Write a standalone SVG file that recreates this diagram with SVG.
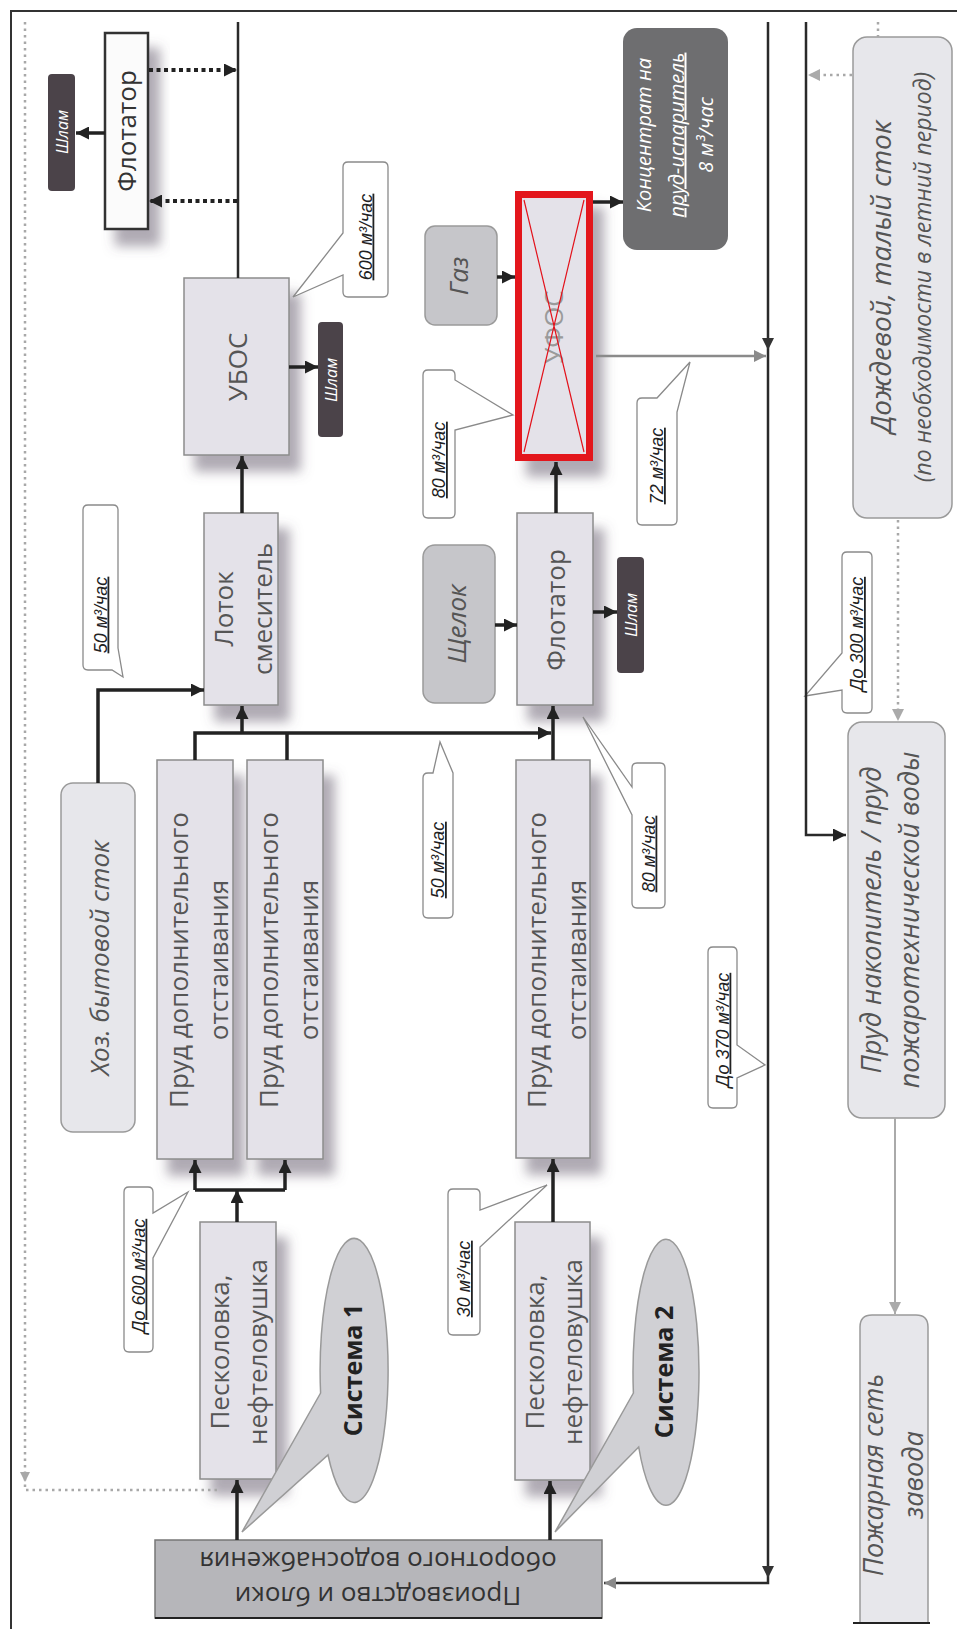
<svg xmlns="http://www.w3.org/2000/svg" width="957" height="1629" viewBox="0 0 957 1629">
<defs>
<filter id="sh" x="-40%" y="-20%" width="190%" height="150%">
<feDropShadow dx="11" dy="16" stdDeviation="6" flood-color="#5f5568" flood-opacity="0.5"/>
</filter>
<marker id="ab" viewBox="0 0 10 10" refX="10" refY="5" markerWidth="13" markerHeight="13" markerUnits="userSpaceOnUse" orient="auto"><path d="M0,0 L10,5 L0,10 z" fill="#222"/></marker>
<marker id="ag" viewBox="0 0 10 10" refX="10" refY="5" markerWidth="12" markerHeight="12" markerUnits="userSpaceOnUse" orient="auto"><path d="M0,0 L10,5 L0,10 z" fill="#8a8a8a"/></marker>
<marker id="agl" viewBox="0 0 10 10" refX="10" refY="5" markerWidth="12" markerHeight="12" markerUnits="userSpaceOnUse" orient="auto"><path d="M0,0 L10,5 L0,10 z" fill="#aaaaaa"/></marker>
</defs>
<style>
.box{fill:#e4e2e9;stroke:#8c8c8c;stroke-width:1.5}
.rbox{fill:#e7e7eb;stroke:#9a9a9a;stroke-width:1.5}
.gbox{fill:#c6c6ca;stroke:#9a9a9a;stroke-width:1.5}
.dbox{fill:#4b4349}
.cb{fill:#ffffff;stroke:#8a8a8a;stroke-width:1.3}
.t{font-family:"Open Sans","Noto Sans",sans-serif;font-size:26px;fill:#555;text-anchor:middle}
.it{font-style:italic}
.w{fill:#ffffff}
.sm{font-family:"Open Sans","Noto Sans",sans-serif;font-size:16px;font-style:italic;fill:#fff;text-anchor:middle}
.ct{font-family:"Liberation Sans","Open Sans",sans-serif;font-size:18px;font-style:italic;fill:#222;text-anchor:middle;text-decoration:underline}
.ln{fill:none;stroke:#222;stroke-width:3.5}
.thin{fill:none;stroke:#2a2a2a;stroke-width:2.5}
.gl{fill:none;stroke:#8a8a8a;stroke-width:2.5}
.dot{fill:none;stroke:#222;stroke-width:4;stroke-dasharray:4 3.5}
.gdot{fill:none;stroke:#a8a8a8;stroke-width:2.5;stroke-dasharray:2.5 4}
</style>
<rect x="0" y="0" width="957" height="1629" fill="#ffffff"/>
<path d="M10,11 H957 M11,11 V1629" fill="none" stroke="#333" stroke-width="2"/>

<g id="flotator-top">
<rect x="105" y="33" width="43" height="196" fill="#fbfbfb" stroke="#333" stroke-width="2.5" filter="url(#sh)"/>
<text class="t" style="fill:#333" transform="translate(126.5,131) rotate(-90)" y="9.5">Флотатор</text>
</g>
<g id="shlam-top">
<rect x="48" y="74" width="27" height="117" rx="4" class="dbox"/>
<text class="sm" transform="translate(61.5,132) rotate(-90)" y="6">Шлам</text>
</g>
<g id="ubos">
<rect x="184" y="278" width="105" height="177" class="box" filter="url(#sh)"/>
<text class="t" transform="translate(236.5,367) rotate(-90)" y="10">УБОС</text>
</g>
<g id="shlam-ubos">
<rect x="318" y="322" width="25" height="115" rx="4" class="dbox"/>
<text class="sm" transform="translate(330.5,380) rotate(-90)" y="6">Шлам</text>
</g>
<g id="gaz">
<rect x="425" y="226" width="72" height="99" rx="10" class="gbox"/>
<text class="t it" transform="translate(461,276) rotate(-90)" y="7">Газ</text>
</g>
<g id="ufos">
<rect x="518.5" y="194.5" width="71" height="263" fill="#e4e2e9" stroke="#e3121b" stroke-width="7" filter="url(#sh)"/>
<text class="t" style="fill:#9a9a9a" transform="translate(554,327) rotate(-90)" y="9">УФОС</text>
<path d="M524,200 L584,452 M584,200 L524,452" stroke="#e3121b" stroke-width="1.2" fill="none"/>
</g>
<g id="koncentrat">
<rect x="623" y="28" width="105" height="222" rx="14" fill="#6e6e70"/>
<text class="t it w" style="font-size:20px;fill:#fff" transform="translate(675.5,135) rotate(-90)"><tspan x="0" y="-25">Концентрат на</tspan><tspan x="0" y="8" text-decoration="underline">пруд-испаритель</tspan><tspan x="0" y="37">8 м³/час</tspan></text>
</g>
<g id="dozhd">
<rect x="853" y="37" width="99" height="481" rx="14" class="rbox"/>
<text class="t it" transform="translate(902,277) rotate(-90)"><tspan x="0" y="-11" style="font-size:28px">Дождевой, талый сток</tspan><tspan x="0" y="29" style="font-size:23px">(по необходимости в летний период)</tspan></text>
</g>
<g id="lotok">
<rect x="204" y="513" width="74" height="192" class="box" filter="url(#sh)"/>
<text class="t" transform="translate(241,609) rotate(-90)"><tspan x="0" y="-8">Лоток</tspan><tspan x="0" y="31">смеситель</tspan></text>
</g>
<g id="shchelok">
<rect x="423" y="545" width="72" height="158" rx="12" class="gbox"/>
<text class="t it" transform="translate(459,624) rotate(-90)" y="7">Щелок</text>
</g>
<g id="flotator-mid">
<rect x="517" y="513" width="76" height="192" class="box" filter="url(#sh)"/>
<text class="t" transform="translate(555,610) rotate(-90)" y="10">Флотатор</text>
</g>
<g id="shlam-mid">
<rect x="617" y="557" width="27" height="116" rx="4" class="dbox"/>
<text class="sm" transform="translate(630.5,615) rotate(-90)" y="6">Шлам</text>
</g>
<g id="khoz">
<rect x="61" y="783" width="74" height="349" rx="12" class="rbox"/>
<text class="t it" transform="translate(98,958) rotate(-90)" y="11">Хоз. бытовой сток</text>
</g>
<g id="prud1">
<rect x="157" y="760" width="76" height="399" class="box" filter="url(#sh)"/>
<text class="t" transform="translate(195,960) rotate(-90)"><tspan x="0" y="-7">Пруд дополнительного</tspan><tspan x="0" y="33">отстаивания</tspan></text>
</g>
<g id="prud2">
<rect x="247" y="760" width="76" height="399" class="box" filter="url(#sh)"/>
<text class="t" transform="translate(285,960) rotate(-90)"><tspan x="0" y="-7">Пруд дополнительного</tspan><tspan x="0" y="33">отстаивания</tspan></text>
</g>
<g id="prud3">
<rect x="516" y="760" width="74" height="398" class="box" filter="url(#sh)"/>
<text class="t" transform="translate(553,960) rotate(-90)"><tspan x="0" y="-7">Пруд дополнительного</tspan><tspan x="0" y="33">отстаивания</tspan></text>
</g>
<g id="nakopitel">
<rect x="848" y="722" width="97" height="396" rx="14" class="rbox"/>
<text class="t it" style="font-size:27px" transform="translate(896.5,920) rotate(-90)"><tspan x="0" y="-16">Пруд накопитель / пруд</tspan><tspan x="0" y="22">пожаротехнической воды</tspan></text>
</g>
<g id="peskolovka1">
<rect x="200" y="1222" width="76" height="257" class="box" filter="url(#sh)"/>
<text class="t" transform="translate(238,1352) rotate(-90)"><tspan x="0" y="-9">Песколовка,</tspan><tspan x="0" y="29">нефтеловушка</tspan></text>
</g>
<g id="peskolovka2">
<rect x="515" y="1222" width="75" height="258" class="box" filter="url(#sh)"/>
<text class="t" transform="translate(552.5,1352) rotate(-90)"><tspan x="0" y="-9">Песколовка,</tspan><tspan x="0" y="29">нефтеловушка</tspan></text>
</g>
<g id="sistema1">
<path d="M320.6,1393 L242,1532 L328,1455 A34,132 0 1 0 320.6,1393 Z" fill="#d0d0d4" stroke="#999" stroke-width="1.5"/>
<text class="t" style="font-weight:bold;font-size:25px;fill:#222" transform="translate(354,1370) rotate(-90)" y="8">Система 1</text>
</g>
<g id="sistema2">
<path d="M633.4,1393 L555,1532 L638.7,1447 A33,133 0 1 0 633.4,1393 Z" fill="#d0d0d4" stroke="#999" stroke-width="1.5"/>
<text class="t" style="font-weight:bold;font-size:25px;fill:#222" transform="translate(666,1372) rotate(-90)" y="7">Система 2</text>
</g>
<g id="proizvodstvo">
<rect x="155" y="1540" width="447" height="78" fill="#b6b6ba" stroke="#777" stroke-width="1.5"/>
<path d="M155,1618 H602" stroke="#222" stroke-width="2"/>
<text class="t" style="fill:#333" transform="translate(378,1579) rotate(180)"><tspan x="0" y="-8">Производство и блоки</tspan><tspan x="0" y="27">оборотного водоснабжения</tspan></text>
</g>
<g id="pozharnaya">
<path d="M860,1623 V1327 Q860,1315 872,1315 H916 Q928,1315 928,1327 V1623 Z" class="rbox"/>
<path d="M853,1623 H930" stroke="#222" stroke-width="2"/>
<text class="t it" style="font-size:27px" transform="translate(894,1475) rotate(-90)"><tspan x="0" y="-11">Пожарная сеть</tspan><tspan x="0" y="29">завода</tspan></text>
</g>

<g id="callouts">
<g id="c600"><path class="cb" d="M348,162 H383 Q388,162 388,167 V292 Q388,297 383,297 H348 Q343,297 343,292 V275 L293,297 L343,233 V167 Q343,162 348,162 Z"/><text class="ct" transform="translate(365.5,237) rotate(-90)" y="6">600 м³/час</text></g>
<g id="c80a"><path class="cb" d="M428,370 H450 Q455,370 455,375 V380 L513,415 L455,430 V513 Q455,518 450,518 H428 Q423,518 423,513 V375 Q423,370 428,370 Z"/><text class="ct" transform="translate(439,460) rotate(-90)" y="6">80 м³/час</text></g>
<g id="c50a"><path class="cb" d="M88,505 H113 Q118,505 118,510 V648 L123,677 L112,670 H88 Q83,670 83,665 V510 Q83,505 88,505 Z"/><text class="ct" transform="translate(100.5,615) rotate(-90)" y="6">50 м³/час</text></g>
<g id="c50b"><path class="cb" d="M428,773 H433 L440,742 L453,773 V913 Q453,918 448,918 H428 Q423,918 423,913 V778 Q423,773 428,773 Z"/><text class="ct" transform="translate(438,860) rotate(-90)" y="6">50 м³/час</text></g>
<g id="c80b"><path class="cb" d="M637,763 H660 Q665,763 665,768 V903 Q665,908 660,908 H637 Q632,908 632,903 V815 L583,717 L632,787 V768 Q632,763 637,763 Z"/><text class="ct" transform="translate(648.5,854) rotate(-90)" y="6">80 м³/час</text></g>
<g id="c370"><path class="cb" d="M713,947 H732 Q737,947 737,952 V1045 L765,1065 L737,1078 V1103 Q737,1108 732,1108 H713 Q708,1108 708,1103 V952 Q708,947 713,947 Z"/><text class="ct" transform="translate(722.5,1030) rotate(-90)" y="6">До 370 м³/час</text></g>
<g id="c72"><path class="cb" d="M642,398 H657 L690,362 L677,412 V520 Q677,525 672,525 H642 Q637,525 637,520 V403 Q637,398 642,398 Z"/><text class="ct" transform="translate(657,466) rotate(-90)" y="6">72 м³/час</text></g>
<g id="c300"><path class="cb" d="M847,552 H867 Q872,552 872,557 V708 Q872,713 867,713 H847 Q842,713 842,708 V690 L805,696 L842,653 V557 Q842,552 847,552 Z"/><text class="ct" transform="translate(857,634) rotate(-90)" y="6">До 300 м³/час</text></g>
<g id="c600b"><path class="cb" d="M129,1187 H148 Q153,1187 153,1192 V1213 L188,1192 L153,1258 V1347 Q153,1352 148,1352 H129 Q124,1352 124,1347 V1192 Q124,1187 129,1187 Z"/><text class="ct" transform="translate(138.5,1276) rotate(-90)" y="6">До 600 м³/час</text></g>
<g id="c30"><path class="cb" d="M453,1189 H475 Q480,1189 480,1194 V1210 L547,1185 L480,1247 V1330 Q480,1335 475,1335 H453 Q448,1335 448,1330 V1194 Q448,1189 453,1189 Z"/><text class="ct" transform="translate(464,1279) rotate(-90)" y="6">30 м³/час</text></g>
</g>

<g id="connectors">
<path class="thin" d="M238,22 V278"/>
<path class="thin" d="M768,22 V1583 H604" marker-end="url(#ag)"/>
<path d="M762,338 L774,338 L768,350 Z M762,1566 L774,1566 L768,1578 Z" fill="#333"/>
<path class="thin" d="M806,22 V835 H846" marker-end="url(#ab)"/>
<path class="gl" d="M596,356 H766" marker-end="url(#ag)"/>
<path fill="none" stroke="#aaaaaa" stroke-width="2" d="M895,1118 V1314" marker-end="url(#agl)"/>
<path class="dot" d="M149,70 H237" marker-end="url(#ab)"/>
<path class="dot" d="M237,201 H149" marker-end="url(#ab)"/>
<path class="gdot" d="M852,75 H808" marker-end="url(#agl)"/>
<path class="gdot" d="M898,520 V721" marker-end="url(#agl)"/>
<path class="gdot" d="M217,1490 H25 V22"/>
<path d="M20,1472 L30,1472 L25,1482 Z" fill="#a8a8a8"/>
<path class="gdot" d="M878,22 V37"/>
<path class="ln" d="M105,133 H76" marker-end="url(#ab)"/>
<path class="ln" d="M289,367 H318" marker-end="url(#ab)"/>
<path class="ln" d="M242,513 V456" marker-end="url(#ab)"/>
<path class="ln" d="M98,783 V690 H204" marker-end="url(#ab)"/>
<path class="ln" d="M195,760 V733 H551" marker-end="url(#ab)"/>
<path class="ln" d="M287,760 V733"/>
<path class="ln" d="M242,733 V706" marker-end="url(#ab)"/>
<path class="ln" d="M553,760 V706" marker-end="url(#ab)"/>
<path class="ln" d="M495,625 H517" marker-end="url(#ab)"/>
<path class="ln" d="M593,612 H617" marker-end="url(#ab)"/>
<path class="ln" d="M556,513 V462" marker-end="url(#ab)"/>
<path class="ln" d="M497,277 H515" marker-end="url(#ab)"/>
<path class="ln" d="M593,202 H623" marker-end="url(#ab)"/>
<path class="ln" d="M237,1222 V1190" marker-end="url(#ab)"/>
<path class="ln" d="M195,1190 H285"/>
<path class="ln" d="M195,1190 V1160" marker-end="url(#ab)"/>
<path class="ln" d="M285,1190 V1160" marker-end="url(#ab)"/>
<path class="ln" d="M237,1540 V1480" marker-end="url(#ab)"/>
<path class="ln" d="M550,1540 V1481" marker-end="url(#ab)"/>
<path class="ln" d="M553,1222 V1159" marker-end="url(#ab)"/>
</g>
</svg>
